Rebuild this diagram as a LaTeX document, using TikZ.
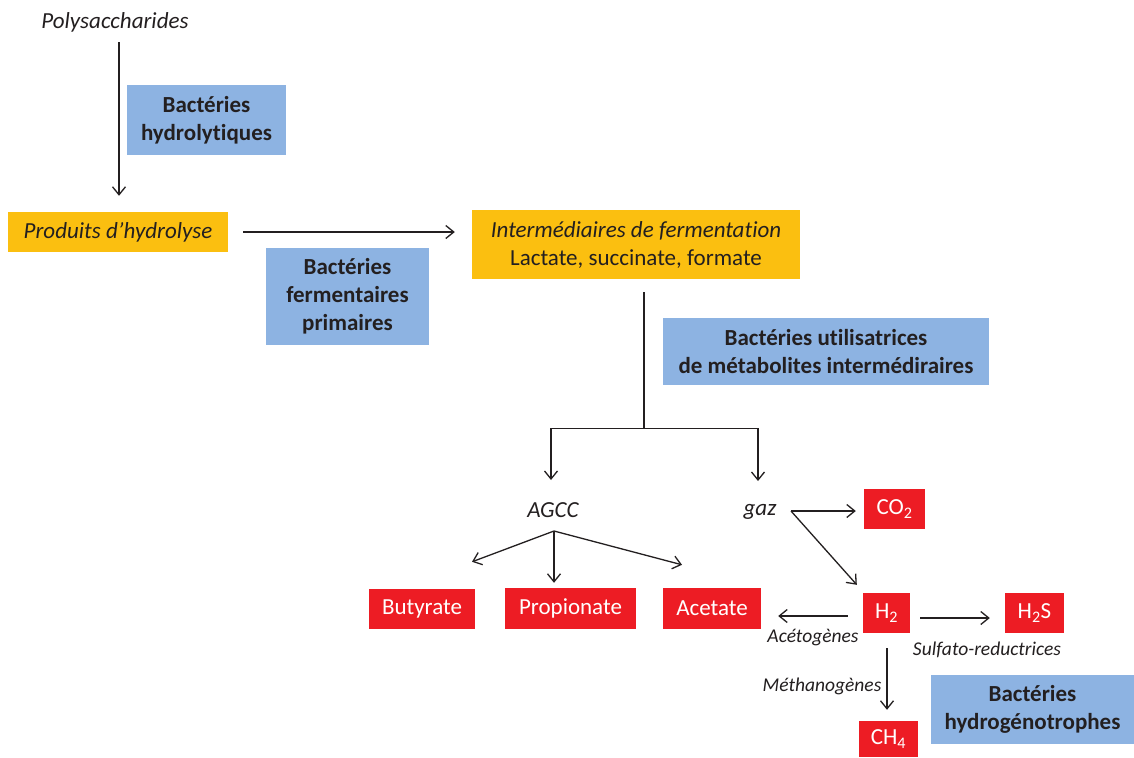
\documentclass[tikz,border=0pt]{standalone}
\usepackage{fontspec}
\setmainfont{Carlito}[Ligatures=NoCommon]
\usetikzlibrary{arrows.meta,calc}
\definecolor{orangebox}{HTML}{FBBF10}
\definecolor{bluebox}{HTML}{8DB3E2}
\definecolor{redbox}{HTML}{ED1C24}
\definecolor{ink}{HTML}{231F20}
\begin{document}
\begin{tikzpicture}[x=1pt,y=-1pt,
 every node/.style={font=\fontsize{23}{28}\selectfont, text=ink, inner sep=0pt, align=center},
 txt/.style={font=\fontsize{23}{28}\selectfont\itshape},
 bact/.style={fill=bluebox, font=\fontsize{23}{28}\selectfont\bfseries},
 prodbox/.style={fill=orangebox},
 redb/.style={fill=redbox, text=white},
 lbl/.style={font=\fontsize{19.5}{22}\selectfont\itshape},
 arr/.style={draw=ink, line width=1.3pt, -{Straight Barb[length=8pt,width=13pt,line width=1.3pt]}},
 ln/.style={draw=ink, line width=1.3pt}]
\useasboundingbox (0,0) rectangle (1134,757);
\fill[white] (0,0) rectangle (1134,757);

% nodes
\node[txt] (poly) at (115,22) {Polysaccharides};
\node[bact, minimum width=159pt, minimum height=70pt] (hydro) at (206.5,120) {Bactéries\\hydrolytiques};
\node[prodbox, txt, minimum width=220pt, minimum height=40pt] (prod) at (118,232) {Produits d’hydrolyse};
\node[bact, minimum width=163pt, minimum height=97pt] (ferm) at (347.5,296.5) {Bactéries\\fermentaires\\primaires};
\node[prodbox, minimum width=328pt, minimum height=69pt] (inter) at (636,244.5) {\textit{Intermédiaires de fermentation}\\Lactate, succinate, formate};
\node[bact, minimum width=326pt, minimum height=67pt] (util) at (826,351.5) {Bactéries utilisatrices\\de métabolites intermédiraires};
\node[txt] (agcc) at (553,510) {AGCC};
\node[txt] (gaz) at (760,512) {gaz};
\node[redb, minimum width=106pt, minimum height=40pt] (buty) at (422,609) {Butyrate};
\node[redb, minimum width=131pt, minimum height=41pt] (prop) at (570.5,608.5) {Propionate};
\node[redb, minimum width=98pt, minimum height=41pt] (acet) at (712,608.5) {Acetate};
\node[redb, minimum width=61pt, minimum height=40pt] (co2) at (894.5,509) {CO\textsubscript{2}};
\node[redb, minimum width=47pt, minimum height=40pt] (h2) at (886.5,613) {H\textsubscript{2}};
\node[redb, minimum width=59pt, minimum height=40pt] (h2s) at (1034.5,613) {H\textsubscript{2}S};
\node[redb, minimum width=59pt, minimum height=36pt] (ch4) at (888.5,739) {CH\textsubscript{4}};
\node[bact, minimum width=203pt, minimum height=69pt] (hgeno) at (1032.5,709.5) {Bactéries\\hydrogénotrophes};
\node[lbl] (acetog) at (813,638) {Acétogènes};
\node[lbl] (sulfo) at (987,650) {Sulfato-reductrices};
\node[lbl] (metha) at (822,686) {Méthanogènes};

% connectors
\draw[arr] ($(poly.south)+(4,10)$) -- ($(prod.north)+(1,-16)$);
\draw[arr] ($(prod.east)+(15,0)$) -- ($(inter.west)+(-17,-12.5)$);
\coordinate (split) at ($(inter.south)+(8,149)$);
\draw[ln] ($(inter.south)+(8,13)$) -- (split);
\draw[arr] (split) -| ($(agcc.center)+(-2,-30)$);
\draw[arr] (split) -| ($(gaz.center)+(-2,-31)$);
\coordinate (asplit) at ($(agcc.center)+(1,21)$);
\draw[arr] (asplit) -- ($(buty.north)+(50,-27)$);
\draw[arr] (asplit) -- ($(prop.north)+(-16.5,-5)$);
\draw[arr] (asplit) -- ($(acet.north)+(-30,-23)$);
\coordinate (gsplit) at ($(gaz.center)+(31,-1)$);
\draw[arr] (gsplit) -- ($(co2.west)+(-8,2)$);
\draw[arr] (gsplit) -- ($(h2.north west)+(-6,-8)$);
\draw[arr] ($(h2.west)+(-15,3)$) -- ($(acet.east)+(17,7.5)$);
\draw[arr] ($(h2.east)+(10,5)$) -- ($(h2s.west)+(-15,5)$);
\draw[arr] ($(h2.south)+(0.5,15)$) -- ($(ch4.north)+(-1.5,-11)$);
\end{tikzpicture}
\end{document}
